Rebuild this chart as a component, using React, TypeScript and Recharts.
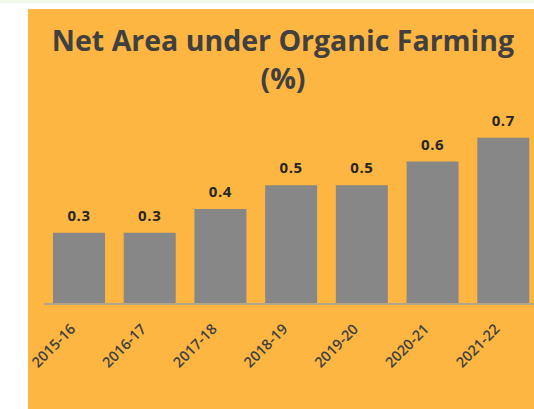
import React from "react";
import { BarChart, Bar, XAxis, YAxis, LabelList } from "recharts";

const years = ["2015-16", "2016-17", "2017-18", "2018-19", "2019-20", "2020-21", "2021-22"];
const netArea = [0.3, 0.3, 0.4, 0.5, 0.5, 0.6, 0.7];
const titleLine1 = "Net Area under Organic Farming";
const titleLine2 = "(%)";

const data = years.map((y, i) => ({ year: y, value: netArea[i] }));

const Tick = (props: any) => {
  const { x, payload } = props;
  const px = x - 3;
  const py = 304 - 9 + 26;
  return (
    <text
      x={px}
      y={py}
      transform={`rotate(-45 ${px} ${py})`}
      textAnchor="end"
      fontFamily="'Open Sans', sans-serif"
      fontSize={14.5}
      fontWeight={600}
      fill="#404040"
    >
      {payload.value}
    </text>
  );
};

export default function App() {
  return (
    <div style={{ position: "fixed", left: 0, top: 0, width: 534, height: 409, overflow: "hidden", background: "#ffffff" }}>
      <div style={{ position: "absolute", left: 0, top: 0, width: 534, height: 3, background: "#eef8e8" }} />
      <div style={{ position: "absolute", left: 28, top: 9, width: 560, height: 400, background: "#FDB642" }}>
        <div
          style={{
            position: "absolute",
            left: 0,
            top: 12,
            width: 510,
            textAlign: "center",
            fontFamily: "'Open Sans', sans-serif",
            fontWeight: 700,
            fontSize: 28.5,
            lineHeight: "38px",
            color: "#404040",
            whiteSpace: "nowrap",
          }}
        >
          <div>{titleLine1}</div>
          <div>{titleLine2}</div>
        </div>
        <div style={{ position: "absolute", left: 0, top: 0 }}>
          <BarChart
            width={560}
            height={400}
            data={data}
            margin={{ top: 105, left: 16, right: 49, bottom: 45 }}
          >
            <XAxis
              dataKey="year"
              height={60}
              axisLine={{ stroke: "#b3a48a", strokeWidth: 2 }}
              tickLine={false}
              tick={<Tick />}
              interval={0}
            />
            <YAxis hide domain={[0, 0.8]} />
            <Bar dataKey="value" fill="#878787" barSize={52} isAnimationActive={false}>
              <LabelList
                dataKey="value"
                position="top"
                offset={12}
                fontFamily="'Open Sans', sans-serif"
                fontSize={15}
                fontWeight={700}
                letterSpacing={0.6}
                fill="#262626"
              />
            </Bar>
          </BarChart>
        </div>
      </div>
    </div>
  );
}
